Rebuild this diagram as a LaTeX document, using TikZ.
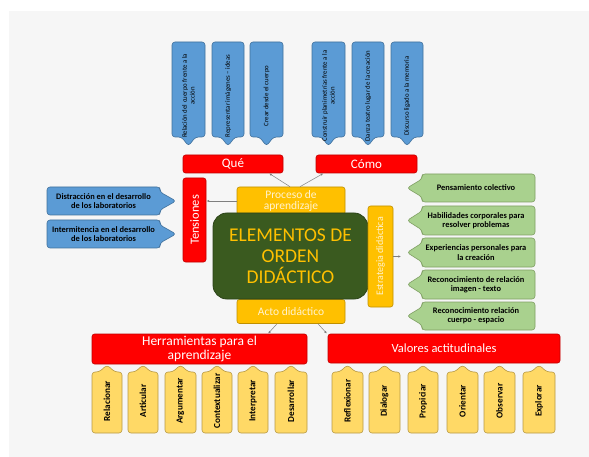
\documentclass[tikz,border=0pt]{standalone}
\usepackage{fontspec}
\setmainfont{Carlito}
\usetikzlibrary{calc,arrows.meta}
\definecolor{bggray}{HTML}{F6F6F6}
\definecolor{cblue}{HTML}{5B9BD5}
\definecolor{cblueb}{HTML}{41719C}
\definecolor{cred}{HTML}{FF0000}
\definecolor{credb}{HTML}{C00000}
\definecolor{cgold}{HTML}{FFC000}
\definecolor{cgoldb}{HTML}{BF9000}
\definecolor{cdkgreen}{HTML}{3A5A1F}
\definecolor{cdkgreenb}{HTML}{2B4318}
\definecolor{cltgreen}{HTML}{A9D18E}
\definecolor{cltgreenb}{HTML}{7F9F63}
\definecolor{cltyel}{HTML}{FFD966}
\definecolor{cltyelb}{HTML}{B89A45}
\definecolor{ccream}{HTML}{FFF3D0}
\definecolor{cconn}{HTML}{7F7F7F}
\newcommand{\mycalldown}[4]{%
  \pgfmathsetmacro\mycx{(#2+#3)/2}%
  \draw[bluecall] (#2,42) -- (#3,42) -- (#3,137) -- ({\mycx+7},137) -- (\mycx,146) -- ({\mycx-7},137) -- (#2,137) -- cycle;
  \node[toptxt] (#1) at (\mycx,96) {#4};
}
\newcommand{\mycallright}[4]{%
  \pgfmathsetmacro\mycy{(#2+#3)/2}%
  \draw[bluecall] (47,#2) -- (160,#2) -- (160,{#2+5}) -- (176,\mycy) -- (160,{#3-5}) -- (160,#3) -- (47,#3) -- cycle;
  \node[sidetxt] (#1) at (103.5,\mycy) {#4};
}
\newcommand{\mycallleft}[4]{%
  \pgfmathsetmacro\mycy{(#2+#3)/2}%
  \draw[greencall] (535,#2) -- (535,#3) -- (422,#3) -- (422,{#3-5}) -- (407,\mycy) -- (422,{#2+5}) -- (422,#2) -- cycle;
  \node[sidetxt] (#1) at (476,\mycy) {#4};
}
\newcommand{\mycallup}[4]{%
  \pgfmathsetmacro\mycx{(#2+#3)/2}%
  \draw[yelcall] (#2,372) -- ({\mycx-8},372) -- (\mycx,365) -- ({\mycx+8},372) -- (#3,372) -- (#3,433) -- (#2,433) -- cycle;
  \node[bottxt] (#1) at (\mycx,401) {#4};
}
\begin{document}
\begin{tikzpicture}[x=1pt,y=-1pt,
  bluecall/.style={fill=cblue,draw=cblueb,line width=0.6pt,rounded corners=3pt},
  greencall/.style={fill=cltgreen,draw=cltgreenb,line width=0.6pt,rounded corners=3pt},
  yelcall/.style={fill=cltyel,draw=cltyelb,line width=0.6pt,rounded corners=3pt},
  toptxt/.style={rotate=90,align=center,inner sep=0pt,text=black,font=\fontsize{6.8}{7.8}\selectfont},
  sidetxt/.style={align=center,inner sep=0pt,text=black,font=\fontsize{8.4}{9.4}\selectfont\bfseries},
  bottxt/.style={rotate=90,inner sep=0pt,text=black,font=\fontsize{9.2}{10}\selectfont\bfseries},
  redbox/.style={fill=cred,draw=credb,line width=0.6pt,rounded corners=2.5pt,inner sep=0pt,align=center,text=white},
  goldbox/.style={fill=cgold,draw=cgoldb,line width=0.6pt,rounded corners=2.5pt,inner sep=0pt,align=center,text=ccream},
  conn/.style={draw=cconn,line width=0.5pt,-{Latex[length=2.6pt,width=2.4pt]},shorten >=0.3pt}]
\useasboundingbox (0,0) rectangle (589,457);
\fill[white] (0,0) rectangle (589,457);
\fill[bggray] (9,11) rectangle (589,457);

% top blue callouts
\mycalldown{q1}{172}{205}{Relación del cuerpo frente a la\\acción}
\mycalldown{q2}{212}{244}{Representar imágenes – ideas}
\mycalldown{q3}{250}{283}{Crear desde el cuerpo}
\mycalldown{c1}{312}{345}{Construir planimetrías frente a la\\acción}
\mycalldown{c2}{352}{384}{Danza teatro lugar de la creación}
\mycalldown{c3}{391}{423}{Discurso ligado a la memoria}

% red headers
\node[redbox,minimum width=100pt,minimum height=18pt,font=\fontsize{13}{13}\selectfont] (que) at (233,164) {Qué};
\node[redbox,minimum width=101pt,minimum height=18pt,font=\fontsize{13}{13}\selectfont] (como) at (366.5,164) {Cómo};
\node[redbox,minimum width=23pt,minimum height=84pt,font=\fontsize{12.5}{13}\selectfont] (tens) at (194.5,220) {\rotatebox{90}{Tensiones}};

% tension callouts
\mycallright{t1}{187}{215}{Distracción en el desarrollo\\de los laboratorios}
\mycallright{t2}{220}{248}{Intermitencia en el desarrollo\\de los laboratorios}

% gold boxes and centre
\node[goldbox,minimum width=108pt,minimum height=28pt,font=\fontsize{11.5}{11.2}\selectfont] (proc) at (291,201) {Proceso de\\aprendizaje};
\node[goldbox,minimum width=108pt,minimum height=24pt,font=\fontsize{11.5}{12}\selectfont] (acto) at (291,311.5) {Acto didáctico};
\node[fill=cdkgreen,draw=cdkgreenb,line width=0.8pt,rounded corners=14pt,minimum width=155pt,minimum height=86pt,inner sep=0pt,align=center,text=cgold,font=\fontsize{19.5}{20.8}\selectfont] (elem) at (290.5,256) {ELEMENTOS DE\\ORDEN\\DIDÁCTICO};
\node[goldbox,minimum width=25pt,minimum height=101pt,font=\fontsize{10}{11}\selectfont] (estr) at (380.5,256.5) {\rotatebox{90}{Estrategia didáctica}};

% green callouts
\mycallleft{g1}{174}{202}{Pensamiento colectivo}
\mycallleft{g2}{206}{235}{Habilidades corporales para\\resolver problemas}
\mycallleft{g3}{238}{267}{Experiencias personales para\\la creación}
\mycallleft{g4}{270}{299}{Reconocimiento de relación\\imagen - texto}
\mycallleft{g5}{302}{330}{Reconocimiento relación\\cuerpo - espacio}

% bottom red headers
\node[redbox,minimum width=215pt,minimum height=30pt,font=\fontsize{13.5}{13.8}\selectfont] (herr) at (199.5,349) {Herramientas para el\\aprendizaje};
\node[redbox,minimum width=232pt,minimum height=29pt,font=\fontsize{12.5}{13}\selectfont] (val) at (444,348.5) {Valores actitudinales};

% bottom yellow callouts
\mycallup{h1}{92}{122}{Relacionar}
\mycallup{h2}{128}{158}{Articular}
\mycallup{h3}{165}{196}{Argumentar}
\mycallup{h4}{202}{232}{Contextualizar}
\mycallup{h5}{238}{268}{Interpretar}
\mycallup{h6}{275}{307}{Desarrollar}
\mycallup{v1}{332}{363}{Reflexionar}
\mycallup{v2}{369}{400}{Dialogar}
\mycallup{v3}{408}{438}{Propiciar}
\mycallup{v4}{447}{478}{Orientar}
\mycallup{v5}{484}{515}{Observar}
\mycallup{v6}{523}{555}{Explorar}

% connectors
\draw[conn] ($(proc.north)+(-1,0)$) -- ($(que.south)+(36,0)$);
\draw[conn] ($(proc.north)+(9,0)$) -- ($(como.south)+(-43,0)$);
\draw[conn] (proc.west) -- (proc.west -| tens.east);
\coordinate (estrtip) at ($(estr.east)+(8,0)$);
\draw[conn] (estr.east) -- (estrtip);
\draw[conn] ($(acto.south)+(-14,0)$) -- ($(herr.north)+(68.5,0)$);
\draw[conn] ($(acto.south)+(27,0)$) -- ($(val.north)+(-117,0)$);
\end{tikzpicture}
\end{document}
